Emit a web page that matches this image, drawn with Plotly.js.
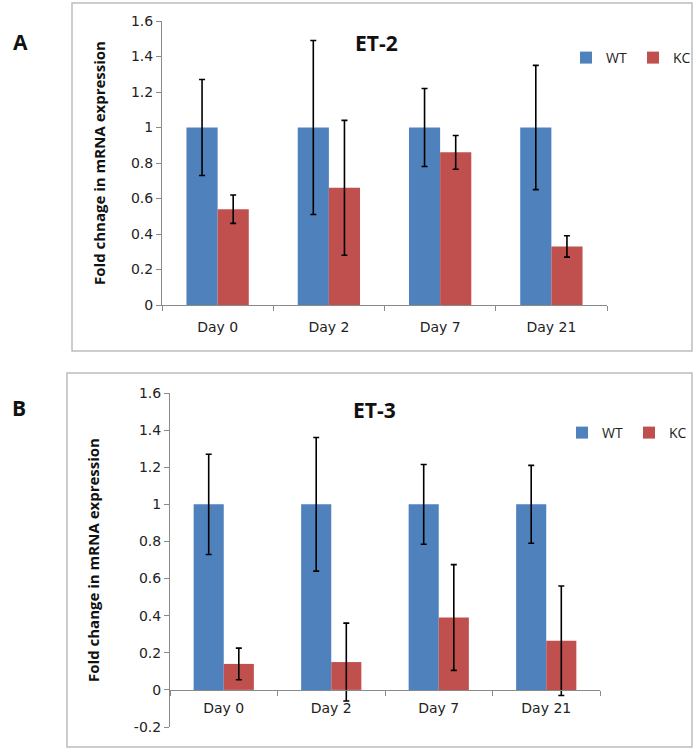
<!DOCTYPE html>
<html>
<head>
<meta charset="utf-8">
<script src="https://cdn.plot.ly/plotly-3.0.1.min.js"></script>
<style>html,body{margin:0;padding:0;background:#fff;}#chart{width:696px;height:752px;}</style>
</head>
<body>
<div id="chart"></div>
<script>
// ---- data ----
const days = ["Day 0", "Day 2", "Day 7", "Day 21"];
const seriesNames = ["WT", "KC"];

// Panel A: ET-2
const et2WT = [1, 1, 1, 1];
const et2WTErr = [0.27, 0.49, 0.22, 0.35];
const et2KC = [0.54, 0.66, 0.86, 0.33];
const et2KCErr = [0.08, 0.38, 0.095, 0.06];

// Panel B: ET-3
const et3WT = [1, 1, 1, 1];
const et3WTErr = [0.27, 0.36, 0.215, 0.21];
const et3KC = [0.14, 0.15, 0.39, 0.265];
const et3KCErr = [0.085, 0.21, 0.285, 0.295];

// y tick labels
const yTicksA = [0, 0.2, 0.4, 0.6, 0.8, 1, 1.2, 1.4, 1.6];
const yTickTextA = ["0", "0.2", "0.4", "0.6", "0.8", "1", "1.2", "1.4", "1.6"];
const yTicksB = [-0.2, 0, 0.2, 0.4, 0.6, 0.8, 1, 1.2, 1.4, 1.6];
const yTickTextB = ["-0.2", "0", "0.2", "0.4", "0.6", "0.8", "1", "1.2", "1.4", "1.6"];

const BLUE = "#4F81BD", RED = "#C0504D";
const FONT = "DejaVu Sans, sans-serif";
const BFONT = "Open Sans, sans-serif";

function errSpec(arr) {
  return {type: "data", array: arr, visible: true, color: "#000", thickness: 1.6, width: 3};
}

const traces = [
  {type: "bar", name: seriesNames[0], x: days, y: et2WT, error_y: errSpec(et2WTErr),
   marker: {color: BLUE}, xaxis: "x", yaxis: "y", legend: "legend"},
  {type: "bar", name: seriesNames[1], x: days, y: et2KC, error_y: errSpec(et2KCErr),
   marker: {color: RED}, xaxis: "x", yaxis: "y", legend: "legend"},
  {type: "bar", name: seriesNames[0], x: days, y: et3WT, error_y: errSpec(et3WTErr),
   marker: {color: BLUE}, xaxis: "x2", yaxis: "y2", legend: "legend2"},
  {type: "bar", name: seriesNames[1], x: days, y: et3KC, error_y: errSpec(et3KCErr),
   marker: {color: RED}, xaxis: "x2", yaxis: "y2", legend: "legend2"}
];

const W = 696, H = 752;
const px = v => v / W;
const py = v => 1 - v / H;

const axisLine = "#8a8a8a";
const tickFont = {family: FONT, size: 14, color: "#222"};

const yDomA = [py(305), py(21)];
const yDomB = [py(727), py(393)];
const rangeB = [-0.2, 1.6];
const zeroPosB = yDomB[0] + (yDomB[1] - yDomB[0]) * (0 - rangeB[0]) / (rangeB[1] - rangeB[0]);

const legendBase = {orientation: "h", xanchor: "left", yanchor: "middle",
  font: {family: BFONT, size: 14, color: "#222"}, itemwidth: 30, bgcolor: "rgba(0,0,0,0)",
  traceorder: "normal", entrywidth: 22, entrywidthmode: "pixels"};

const layout = {
  width: W, height: H,
  margin: {l: 0, r: 0, t: 0, b: 0, autoexpand: false},
  paper_bgcolor: "#fff", plot_bgcolor: "rgba(0,0,0,0)",
  barmode: "group", bargap: 0.44, bargroupgap: 0,
  font: {family: FONT, color: "#222"},
  xaxis: {domain: [px(162), px(607)], anchor: "y", showline: true, linecolor: axisLine, linewidth: 1,
    ticks: "outside", tickson: "boundaries", ticklen: 5, tickcolor: axisLine, tickfont: tickFont,
    ticklabelstandoff: 9, showgrid: false, zeroline: false},
  yaxis: {domain: yDomA, anchor: "x", range: [0, 1.6], tickvals: yTicksA, ticktext: yTickTextA,
    showline: true, linecolor: axisLine,
    ticks: "outside", ticklen: 5, tickcolor: axisLine, tickfont: tickFont, showgrid: false, zeroline: false,
    title: {text: "<b>Fold chnage in mRNA expression</b>", font: {family: BFONT, size: 15, color: "#111"}, standoff: 21}},
  xaxis2: {domain: [px(170), px(600)], anchor: "free", position: zeroPosB, showline: true, linecolor: axisLine,
    ticks: "outside", tickson: "boundaries", ticklen: 5, tickcolor: axisLine, tickfont: tickFont,
    ticklabelstandoff: 5, showgrid: false, zeroline: false},
  yaxis2: {domain: yDomB, anchor: "x2", range: rangeB, tickvals: yTicksB, ticktext: yTickTextB,
    showline: true, linecolor: axisLine,
    ticks: "outside", ticklen: 5, tickcolor: axisLine, tickfont: tickFont, showgrid: false, zeroline: false,
    title: {text: "<b>Fold change in mRNA expression</b>", font: {family: BFONT, size: 15, color: "#111"}, standoff: 30}},
  legend: Object.assign({}, legendBase, {x: px(566), y: py(58)}),
  legend2: Object.assign({}, legendBase, {x: px(562), y: py(433)}),
  shapes: [
    {type: "rect", xref: "paper", yref: "paper", x0: px(72), x1: px(692), y0: py(351), y1: py(3),
     line: {color: "#bdbdbd", width: 1.5}},
    {type: "rect", xref: "paper", yref: "paper", x0: px(67), x1: px(692), y0: py(747), y1: py(373),
     line: {color: "#bdbdbd", width: 1.5}}
  ],
  annotations: [
    {text: "<b>ET-2</b>", xref: "paper", yref: "paper", x: px(376), y: py(27), showarrow: false,
     font: {family: BFONT, size: 21, color: "#111"}},
    {text: "<b>ET-3</b>", xref: "paper", yref: "paper", x: px(374), y: py(410), showarrow: false,
     font: {family: BFONT, size: 21, color: "#111"}},
    {text: "<b>A</b>", xref: "paper", yref: "paper", x: px(11), y: py(26), showarrow: false,
     font: {family: BFONT, size: 21, color: "#111"}},
    {text: "<b>B</b>", xref: "paper", yref: "paper", x: px(10), y: py(408), showarrow: false,
     font: {family: BFONT, size: 21, color: "#111"}}
  ]
};

Plotly.newPlot("chart", traces, layout, {displayModeBar: false, staticPlot: true});
</script>
</body>
</html>
